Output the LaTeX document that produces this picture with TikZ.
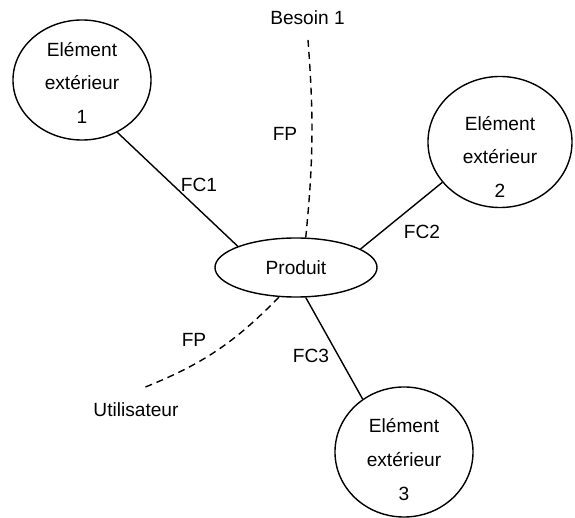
\documentclass[tikz,border=0pt]{standalone}
\usepackage{fontspec}
\setmainfont{Liberation Sans}
\usetikzlibrary{shapes.geometric}

\tikzset{
  elem/.style={shape=ellipse,draw=black,line width=1pt,inner sep=0pt,minimum width=3.45cm},
  elemtxt/.style={align=center,inner sep=0pt,font=\fontsize{13.6}{24}\selectfont},
  prod/.style={shape=ellipse,draw=black,line width=1pt,inner sep=0pt,
    minimum width=4.05cm,minimum height=1.475cm,font=\fontsize{13.6}{16}\selectfont},
  lbl/.style={inner sep=1pt,font=\fontsize{13.6}{16}\selectfont},
  fc/.style={draw=black,line width=1pt},
  fp/.style={draw=black,line width=1pt,dash pattern=on 5pt off 3.5pt}
}

\begin{document}
\begin{tikzpicture}[x=0.025cm,y=-0.025cm]
\useasboundingbox (0,0) rectangle (575,518);

\node[elem,minimum height=3cm,
  label={[elemtxt,yshift=-2pt]center:Elément\\extérieur\\1}] (E1) at (82,80) {};
\node[elem,minimum width=3.6cm,minimum height=3.275cm,
  label={[elemtxt,yshift=-10.5pt]center:Elément\\extérieur\\2}] (E2) at (500,142) {};
\node[elem,minimum height=3.25cm,
  label={[elemtxt,yshift=-5.5pt]center:Elément\\extérieur\\3}] (E3) at (404,452) {};
\node[prod] (P) at (296,267.5) {Produit};

\node[lbl] (B1) at (307.5,18) {Besoin 1};
\node[lbl] (U) at (136,410) {Utilisateur};
\coordinate (B1end) at (308,40);
\coordinate (Uend) at (143,388);

\path[fc] (E1.-56) edge (P.160);
\path[fc] (E2.215) edge (P.16);
\path[fc] (P.-72) edge (E3.128);
\draw[fp] (B1end) to[bend left=5] (P.72);
\draw[fp] (P.240) to[bend left=12] (Uend);

\node[lbl] (FC1) at (199,185) {FC1};
\node[lbl] (FC2) at (422,232) {FC2};
\node[lbl] (FC3) at (311,356) {FC3};
\node[lbl] (FP1) at (285,134) {FP};
\node[lbl] (FP2) at (194,340) {FP};

\end{tikzpicture}
\end{document}
